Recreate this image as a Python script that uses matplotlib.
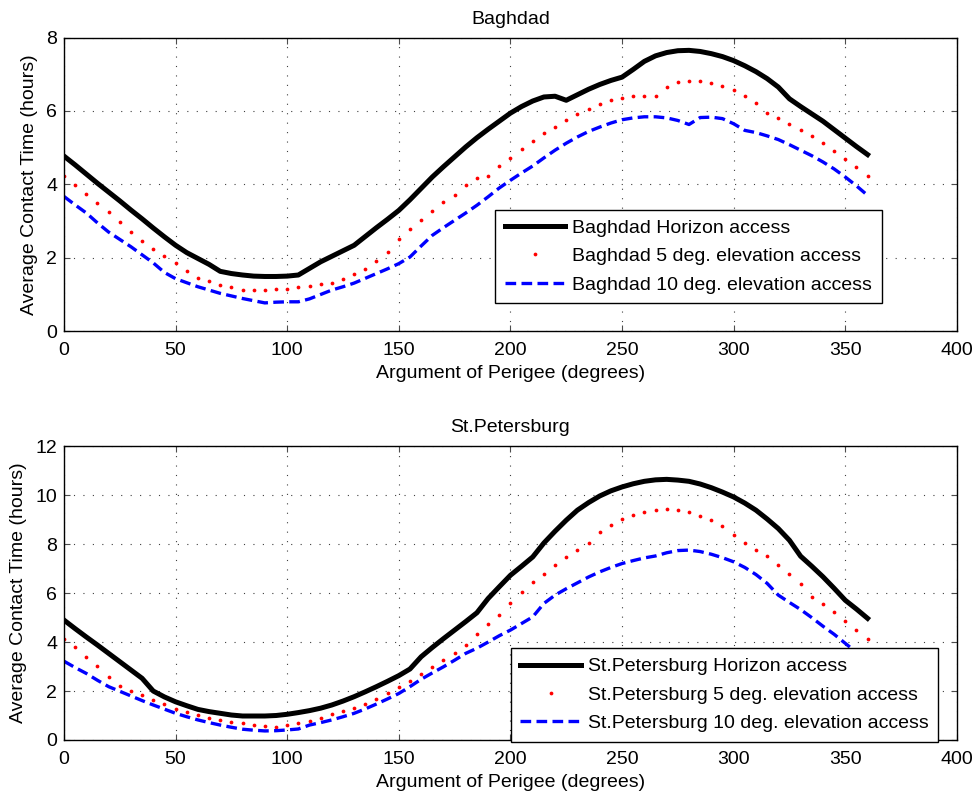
import matplotlib.pyplot as plt
import numpy as np

# Argument of perigee, every 5 degrees
perigee = np.arange(0, 361, 5)

# Baghdad (hours)
bag_horizon = [4.77, 4.53, 4.28, 4.03, 3.79, 3.55, 3.30, 3.06, 2.81, 2.57, 2.34, 2.14, 1.98,
               1.82, 1.63, 1.57, 1.53, 1.50, 1.49, 1.49, 1.50, 1.53, 1.71, 1.89, 2.04, 2.19,
               2.34, 2.58, 2.82, 3.05, 3.29, 3.58, 3.89, 4.20, 4.48, 4.75, 5.02, 5.27, 5.50,
               5.72, 5.94, 6.12, 6.27, 6.38, 6.40, 6.29, 6.44, 6.59, 6.72, 6.83, 6.92, 7.13,
               7.35, 7.50, 7.59, 7.64, 7.65, 7.62, 7.56, 7.48, 7.37, 7.23, 7.07, 6.88, 6.65,
               6.33, 6.12, 5.92, 5.72, 5.49, 5.26, 5.03, 4.81]
bag_5deg = [4.23, 3.99, 3.75, 3.49, 3.24, 2.97, 2.70, 2.46, 2.25, 2.05, 1.85, 1.63, 1.46,
            1.36, 1.26, 1.19, 1.12, 1.13, 1.13, 1.14, 1.15, 1.19, 1.23, 1.29, 1.31, 1.42,
            1.55, 1.69, 1.90, 2.16, 2.50, 2.78, 3.03, 3.27, 3.51, 3.72, 3.98, 4.18, 4.24,
            4.50, 4.73, 4.96, 5.18, 5.39, 5.57, 5.75, 5.91, 6.05, 6.18, 6.29, 6.36, 6.40,
            6.42, 6.42, 6.65, 6.78, 6.81, 6.81, 6.77, 6.67, 6.57, 6.40, 6.22, 5.93, 5.80,
            5.65, 5.49, 5.31, 5.12, 4.90, 4.68, 4.47, 4.23]
bag_10deg = [3.67, 3.44, 3.22, 2.95, 2.70, 2.50, 2.30, 2.08, 1.86, 1.60, 1.43, 1.32, 1.21,
             1.12, 1.03, 0.96, 0.89, 0.83, 0.77, 0.79, 0.80, 0.80, 0.88, 1.00, 1.12, 1.21,
             1.31, 1.44, 1.57, 1.70, 1.84, 2.02, 2.32, 2.61, 2.82, 3.02, 3.22, 3.43, 3.66,
             3.90, 4.11, 4.31, 4.50, 4.72, 4.93, 5.12, 5.29, 5.44, 5.56, 5.67, 5.76, 5.81,
             5.84, 5.84, 5.81, 5.74, 5.63, 5.82, 5.83, 5.79, 5.65, 5.47, 5.41, 5.32, 5.22,
             5.08, 4.93, 4.78, 4.61, 4.42, 4.20, 3.96, 3.70]

# St.Petersburg (hours)
stp_horizon = [4.90, 4.55, 4.21, 3.88, 3.54, 3.20, 2.86, 2.52, 2.00, 1.76, 1.56, 1.40, 1.25,
               1.16, 1.09, 1.02, 0.98, 0.98, 0.98, 1.00, 1.05, 1.12, 1.20, 1.30, 1.43, 1.59,
               1.77, 1.97, 2.18, 2.40, 2.63, 2.90, 3.40, 3.78, 4.14, 4.49, 4.84, 5.20, 5.78,
               6.26, 6.73, 7.10, 7.48, 8.05, 8.53, 8.98, 9.39, 9.70, 9.97, 10.18, 10.34, 10.47,
               10.57, 10.63, 10.65, 10.62, 10.57, 10.46, 10.31, 10.13, 9.93, 9.68, 9.39, 9.03,
               8.64, 8.16, 7.51, 7.10, 6.67, 6.20, 5.71, 5.35, 4.97]
stp_5deg = [4.14, 3.78, 3.40, 3.03, 2.56, 2.22, 2.01, 1.82, 1.62, 1.46, 1.28, 1.14, 1.02,
            0.91, 0.82, 0.73, 0.68, 0.63, 0.59, 0.54, 0.63, 0.69, 0.79, 0.91, 1.05, 1.17,
            1.32, 1.48, 1.66, 1.90, 2.18, 2.42, 2.69, 2.97, 3.27, 3.55, 3.88, 4.35, 4.73,
            5.10, 5.58, 6.03, 6.44, 6.80, 7.16, 7.48, 7.77, 8.03, 8.49, 8.78, 9.02, 9.18,
            9.32, 9.39, 9.43, 9.40, 9.31, 9.17, 8.99, 8.75, 8.38, 8.05, 7.78, 7.50, 7.16,
            6.79, 6.38, 5.86, 5.55, 5.21, 4.86, 4.49, 4.14]
stp_10deg = [3.22, 2.96, 2.72, 2.44, 2.18, 1.99, 1.80, 1.61, 1.43, 1.26, 1.09, 0.95, 0.82,
             0.71, 0.61, 0.52, 0.44, 0.40, 0.37, 0.38, 0.41, 0.45, 0.61, 0.71, 0.82, 0.95,
             1.09, 1.27, 1.47, 1.68, 1.90, 2.18, 2.48, 2.74, 2.99, 3.26, 3.54, 3.75, 4.00,
             4.26, 4.49, 4.76, 5.03, 5.58, 5.92, 6.18, 6.42, 6.66, 6.87, 7.05, 7.21, 7.33,
             7.44, 7.52, 7.65, 7.74, 7.76, 7.70, 7.59, 7.45, 7.28, 7.05, 6.76, 6.40, 5.92,
             5.62, 5.33, 5.00, 4.65, 4.32, 3.95, 3.58, 3.22]

plt.rcParams['font.family'] = ['Liberation Sans', 'DejaVu Sans']

fig = plt.figure(figsize=(9.78, 7.98), dpi=100)
ax1 = fig.add_axes([0.0654, 0.585, 0.913, 0.368])
ax2 = fig.add_axes([0.0654, 0.0727, 0.913, 0.368])


def draw(ax, city, horizon, e5, e10, ymax, yticks, anchor):
    ax.plot(perigee, horizon, color='k', lw=3.6, label=city + ' Horizon access')
    ax.plot(perigee, e5, color='r', ls='none', marker='o', ms=2.7, mec='none',
            label=city + ' 5 deg. elevation access')
    ax.plot(perigee, e10, color='b', lw=2.4, ls=(0, (3.2, 1.6)),
            label=city + ' 10 deg. elevation access')
    ax.set_xlim(0, 400)
    ax.set_ylim(0, ymax)
    ax.set_xticks(np.arange(0, 401, 50))
    ax.set_yticks(yticks)
    ax.tick_params(direction='in', top=True, right=True, labelsize=14, length=4,
                   width=0.8, color='0.3')
    ax.tick_params(axis='x', pad=8)
    ax.tick_params(axis='y', pad=5)
    ax.grid(True, color='0.25', ls=(0, (1, 7.5)), lw=0.8)
    ax.set_title(city, fontsize=14, pad=10)
    ax.set_xlabel('Argument of Perigee (degrees)', fontsize=14, labelpad=4)
    ax.set_ylabel('Average Contact Time (hours)', fontsize=14, labelpad=6)
    for s in ax.spines.values():
        s.set_linewidth(1.0)
    leg = ax.legend(loc='lower right', bbox_to_anchor=anchor, fontsize=14,
                    fancybox=False, framealpha=1, edgecolor='k', handlelength=3.1,
                    handletextpad=0.36, borderpad=0.5, borderaxespad=0,
                    labelspacing=0.55)
    leg.get_frame().set_linewidth(1.0)


draw(ax1, 'Baghdad', bag_horizon, bag_5deg, bag_10deg, 8, np.arange(0, 9, 2), (0.916, 0.095))
draw(ax2, 'St.Petersburg', stp_horizon, stp_5deg, stp_10deg, 12, np.arange(0, 13, 2), (0.979, -0.006))

plt.savefig('out.png', dpi=100)
